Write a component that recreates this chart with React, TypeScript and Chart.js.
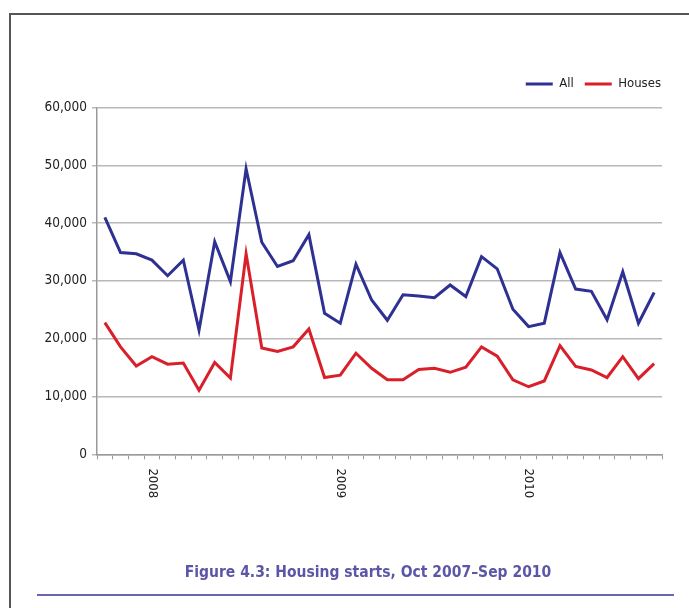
import React, { useEffect, useRef } from "react";
import { Chart, registerables } from "chart.js";

Chart.register(...registerables);

const categories = [
  "Oct 2007", "Nov 2007", "Dec 2007",
  "Jan 2008", "Feb 2008", "Mar 2008", "Apr 2008", "May 2008", "Jun 2008",
  "Jul 2008", "Aug 2008", "Sep 2008", "Oct 2008", "Nov 2008", "Dec 2008",
  "Jan 2009", "Feb 2009", "Mar 2009", "Apr 2009", "May 2009", "Jun 2009",
  "Jul 2009", "Aug 2009", "Sep 2009", "Oct 2009", "Nov 2009", "Dec 2009",
  "Jan 2010", "Feb 2010", "Mar 2010", "Apr 2010", "May 2010", "Jun 2010",
  "Jul 2010", "Aug 2010", "Sep 2010",
];

const xTickLabels = [
  "", "", "",
  "2008", "", "", "", "", "", "", "", "", "", "", "",
  "2009", "", "", "", "", "", "", "", "", "", "", "",
  "2010", "", "", "", "", "", "", "", "",
];

const allStarts = [
  41000, 34900, 34700, 33600, 30900, 33600, 21500, 36800, 29900, 49400, 36700, 32500,
  33500, 38000, 24400, 22700, 32900, 26700, 23200, 27600, 27400, 27100, 29300, 27300,
  34200, 32100, 25100, 22100, 22700, 34900, 28600, 28200, 23300, 31600, 22700, 28000,
];

const houseStarts = [
  22800, 18600, 15300, 16900, 15600, 15800, 11100, 15900, 13200, 34700, 18400, 17800,
  18600, 21700, 13300, 13700, 17500, 14900, 12900, 12900, 14700, 14900, 14200, 15100,
  18600, 17000, 12900, 11700, 12700, 18800, 15200, 14600, 13300, 16900, 13100, 15700,
];

const yTicks = [0, 10000, 20000, 30000, 40000, 50000, 60000];

const FONT = "'Liberation Sans Narrow', 'Arial Narrow', 'DejaVu Sans Condensed', sans-serif";
const BLUE = "#2e3192";
const RED = "#d91f2a";
const TITLE_COLOR = "#5b56a6";

const framePlugin = {
  id: "frame",
  beforeDraw(chart: any) {
    const ctx = chart.ctx;
    ctx.save();
    ctx.fillStyle = "#ffffff";
    ctx.fillRect(0, 0, chart.width, chart.height);
    ctx.strokeStyle = "#555555";
    ctx.lineWidth = 2;
    ctx.beginPath();
    ctx.moveTo(10, chart.height);
    ctx.lineTo(10, 14);
    ctx.lineTo(chart.width, 14);
    ctx.stroke();
    ctx.strokeStyle = "#6b66b0";
    ctx.lineWidth = 2;
    ctx.beginPath();
    ctx.moveTo(37, 595);
    ctx.lineTo(674, 595);
    ctx.stroke();
    ctx.restore();
  },
};

const layoutTweakPlugin = {
  id: "layoutTweak",
  afterInit(chart: any) {
    const legend = chart.legend;
    if (legend) {
      const origFit = legend.fit;
      legend.fit = function () {
        origFit.call(this);
        this.height += 7;
      };
    }
    const title = chart.titleBlock;
    if (title) {
      const origDraw = title.draw;
      title.draw = function () {
        const ctx = this.ctx;
        ctx.save();
        ctx.translate(27, 0);
        origDraw.call(this);
        ctx.restore();
      };
    }
  },
};

const yearLabelPlugin = {
  id: "yearLabels",
  afterDraw(chart: any) {
    const ctx = chart.ctx;
    const xs = chart.scales.x;
    ctx.save();
    ctx.fillStyle = "#222222";
    ctx.font = `13px ${FONT}`;
    ctx.textAlign = "left";
    ctx.textBaseline = "middle";
    xTickLabels.forEach((lab, i) => {
      if (!lab) return;
      const x = xs.getPixelForValue(i);
      ctx.save();
      ctx.translate(x, xs.top + 14);
      ctx.rotate(Math.PI / 2);
      ctx.fillText(lab, 0, 0);
      ctx.restore();
    });
    ctx.restore();
  },
};

export default function App() {
  const ref = useRef<HTMLCanvasElement>(null);

  useEffect(() => {
    if (!ref.current) return;
    const chart = new Chart(ref.current, {
      type: "line",
      data: {
        labels: categories,
        datasets: [
          {
            label: "All",
            data: allStarts,
            borderColor: BLUE,
            backgroundColor: BLUE,
            borderWidth: 3,
            pointRadius: 0,
            tension: 0,
            fill: false,
          },
          {
            label: "Houses",
            data: houseStarts,
            borderColor: RED,
            backgroundColor: RED,
            borderWidth: 3,
            pointRadius: 0,
            tension: 0,
            fill: false,
          },
        ],
      },
      options: {
        responsive: false,
        animation: false,
        devicePixelRatio: 1,
        layout: { padding: { top: 66.5, left: 10, right: 17, bottom: 0 } },
        plugins: {
          legend: {
            display: true,
            position: "top",
            align: "end",
            labels: {
              boxWidth: 27,
              boxHeight: 3,
              padding: 11,
              color: "#222222",
              font: { family: FONT, size: 13 },
              generateLabels: (c: any) =>
                Chart.defaults.plugins.legend.labels
                  .generateLabels(c)
                  .map((it: any) => ({ ...it, lineWidth: 0 })),
            },
          },
          title: {
            display: true,
            position: "bottom",
            text: "Figure 4.3: Housing starts, Oct 2007–Sep 2010",
            color: TITLE_COLOR,
            font: { family: FONT, size: 15.5, weight: "bold", lineHeight: 1.2 },
            padding: { top: 10, bottom: 26 },
          },
          tooltip: { enabled: false },
        },
        scales: {
          x: {
            type: "category",
            offset: true,
            afterFit: (s: any) => {
              s.height = 99;
            },
            grid: {
              display: true,
              offset: true,
              drawOnChartArea: false,
              drawTicks: true,
              tickLength: 5,
              color: "#9a9a9a",
              lineWidth: 1,
            },
            border: { display: true, color: "#9a9a9a", width: 1.5 },
            ticks: {
              autoSkip: false,
              maxRotation: 0,
              minRotation: 0,
              callback: () => "",
            },
          },
          y: {
            type: "linear",
            min: 0,
            max: 60000,
            afterFit: (s: any) => {
              s.width = 87;
            },
            afterBuildTicks: (s: any) => {
              s.ticks = yTicks.map((v) => ({ value: v }));
            },
            grid: {
              color: "#b8b8b8",
              lineWidth: 1.5,
              drawTicks: true,
              tickLength: 5,
            },
            border: { display: true, color: "#9a9a9a", width: 1.5 },
            ticks: {
              padding: 5,
              color: "#222222",
              font: { family: FONT, size: 13.5 },
              callback: (v: any) => Number(v).toLocaleString("en-US"),
            },
          },
          y2: {
            type: "linear",
            position: "right",
            display: true,
            afterFit: (s: any) => {
              s.width = 10;
            },
            grid: { display: false, drawTicks: false },
            border: { display: false },
            ticks: { display: false },
          },
        },
      },
      plugins: [framePlugin, layoutTweakPlugin, yearLabelPlugin],
    });
    return () => chart.destroy();
  }, []);

  return (
    <div style={{ position: "fixed", left: 0, top: 0, width: 689, height: 608 }}>
      <canvas ref={ref} width={689} height={608} style={{ display: "block" }} />
    </div>
  );
}
